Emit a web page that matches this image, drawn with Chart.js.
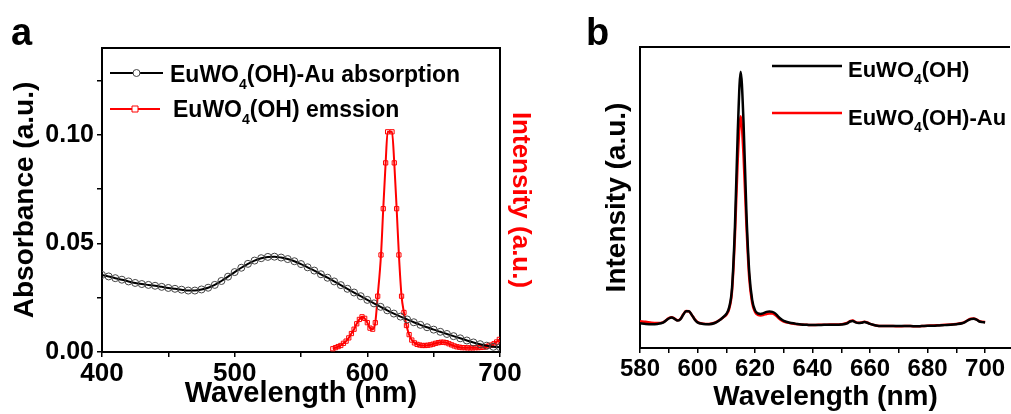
<!DOCTYPE html>
<html>
<head>
<meta charset="utf-8">
<script src="https://cdn.jsdelivr.net/npm/chart.js@4.4.0/dist/chart.umd.min.js"></script>
<style>
  html, body { margin: 0; padding: 0; background: #fff; overflow: hidden; }
  #wrap { position: relative; width: 1011px; height: 414px; }
  canvas { position: absolute; top: 0; }
  #chart-a { left: 0; }
  #chart-b { left: 560px; }
</style>
</head>
<body>
<div id="wrap">
  <canvas id="chart-a" width="550" height="414"></canvas>
  <canvas id="chart-b" width="451" height="414"></canvas>
</div>
<script>
// panel a: absorption of EuWO4(OH)-Au (every 5 nm)
const absWavelength = [400,405,410,415,420,425,430,435,440,445,450,455,460,465,470,475,480,485,490,495,
  500,505,510,515,520,525,530,535,540,545,550,555,560,565,570,575,580,585,590,595,
  600,605,610,615,620,625,630,635,640,645,650,655,660,665,670,675,680,685,690,695,700];
const absValues = [0.0355,0.0348,0.0340,0.0333,0.0325,0.0318,0.0313,0.0309,0.0305,0.0300,0.0295,0.0291,0.0287,0.0283,0.0283,0.0288,0.0296,0.0309,0.0327,0.0347,
  0.0368,0.0388,0.0406,0.0421,0.0432,0.0438,0.0439,0.0435,0.0428,0.0418,0.0405,0.0390,0.0375,0.0358,0.0342,0.0325,0.0308,0.0291,0.0274,0.0257,
  0.0240,0.0224,0.0208,0.0192,0.0177,0.0163,0.0150,0.0137,0.0125,0.0114,0.0103,0.0093,0.0083,0.0073,0.0063,0.0053,0.0044,0.0036,0.0029,0.0024,0.0022];

// panel a: emission of EuWO4(OH)
const emWavelength = [574,576,578,580,582,584,586,588,590,592,594,596,598,600,602,604,606,
  607.8,610.3,612.0,613.8,615.3,618.6,620.3,622.1,623.8,625.8,627.6,629.5,
  631.5,633.5,635.5,637.5,639.5,641.5,643.5,645.5,647.5,649.5,651.5,653.5,655.5,657.5,659.5,661.5,663.5,665.5,667.5,
  669.5,671.5,673.5,675.5,677.5,679.5,681.5,683.5,685.5,687.5,689.5,691.5,693.5,695.5,697.5,699.5];
const emValues = [0.0015,0.0020,0.0025,0.0030,0.0040,0.0050,0.0065,0.0085,0.0105,0.0130,0.0150,0.0162,0.0155,0.0135,0.0110,0.0105,0.0135,
  0.0257,0.0447,0.0660,0.0871,0.1014,0.1014,0.0871,0.0660,0.0447,0.0257,0.0182,0.0122,
  0.0080,0.0055,0.0042,0.0035,0.0032,0.0030,0.0030,0.0031,0.0033,0.0036,0.0040,0.0043,0.0045,0.0045,0.0043,0.0038,0.0033,0.0028,0.0024,
  0.0022,0.0020,0.0020,0.0019,0.0019,0.0019,0.0020,0.0020,0.0021,0.0022,0.0024,0.0028,0.0032,0.0038,0.0046,0.0058];

// panel b: emission spectra
const pl_wavelength = [580,582,584,586,588,590,591,592,593,594,595,596,597,598,599,600,602,604,606,608,
  609,610,611,612,613,614,615,616,617,618,619,620,621,622,623,624,625,626,627,628,
  629,630,632,634,636,638,640,642,644,646,648,650,652,653,654,655,656,657,658,659,
  660,662,664,666,668,670,672,674,676,678,680,682,684,686,688,690,692,693,694,695,
  696,697,698,699,700];
const plPure = [8.2,8.0,7.9,8.0,8.4,9.8,10.1,9.7,9.1,9.5,11.0,12.2,12.2,11.0,9.5,8.5,8.0,7.9,8.3,9.5,
  10.3,11.3,13.5,20,40,72,91.8,75,45,25,16,12.5,11.5,11.3,11.6,12.0,12.1,12.0,11.5,10.5,
  9.6,9.0,8.4,8.1,7.8,7.7,7.6,7.6,7.7,7.7,7.7,7.8,8.2,8.8,9.0,8.5,8.3,8.4,8.6,8.4,
  8.0,7.5,7.3,7.3,7.3,7.3,7.3,7.3,7.2,7.3,7.4,7.4,7.5,7.6,7.7,7.9,8.2,8.6,9.2,9.6,
  9.7,9.4,8.8,8.6,8.5];
const plAu = [8.9,8.7,8.4,8.3,8.5,9.9,10.2,9.8,9.2,9.6,11.1,12.3,12.2,11.0,9.6,8.6,8.1,8.0,8.4,9.5,
  10.2,11.0,13.0,19,37,63,77,64,41,23,15,12,11.0,10.8,11.0,11.3,11.5,11.5,11.0,10.1,
  9.3,8.8,8.3,8.0,7.8,7.7,7.6,7.7,7.7,7.8,7.8,7.9,8.3,8.9,9.1,8.6,8.4,8.5,8.7,8.5,
  8.0,7.5,7.3,7.3,7.3,7.2,7.3,7.3,7.2,7.3,7.4,7.5,7.6,7.7,7.8,8.0,8.3,8.7,9.3,9.7,
  9.8,9.5,8.9,8.7,8.6];

const xLabelsA = [400, 500, 600, 700];
const yLabelsA = [0, 0.05, 0.10];
const xLabelsB = [580, 600, 620, 640, 660, 680, 700];

const toPoints = (xs, ys) => xs.map((x, i) => ({ x, y: ys[i] }));
const FONT = "'Liberation Sans', Arial, sans-serif";

// top frame line + panel letter
const framePlugin = {
  id: "frame",
  afterDraw(chart, args, opts) {
    const { ctx, chartArea } = chart;
    ctx.save();
    ctx.strokeStyle = "#000";
    ctx.lineWidth = 2;
    ctx.beginPath();
    ctx.moveTo(chartArea.left - 1, chartArea.top);
    ctx.lineTo(opts.topEnd ?? chartArea.right, chartArea.top);
    ctx.stroke();
    ctx.fillStyle = "#000";
    ctx.font = `bold 38px ${FONT}`;
    ctx.textBaseline = "alphabetic";
    ctx.fillText(opts.letter, opts.letterX, 45);
    ctx.restore();
  },
};

// legend with subscripts, e.g. "EuWO_4(OH)"
function drawRichText(ctx, text, x, y, size) {
  const parts = text.split(/_(\d)/);
  parts.forEach((part, i) => {
    if (i % 2 === 1) {
      ctx.font = `bold ${Math.round(size * 0.62)}px ${FONT}`;
      ctx.fillText(part, x, y + size * 0.3);
    } else {
      ctx.font = `bold ${size}px ${FONT}`;
      ctx.fillText(part, x, y);
    }
    x += ctx.measureText(part).width;
  });
}

const legendPlugin = {
  id: "richLegend",
  afterDraw(chart, args, opts) {
    const { ctx } = chart;
    ctx.save();
    opts.items.forEach((item, i) => {
      const ds = chart.data.datasets[i];
      ctx.strokeStyle = ds.borderColor;
      ctx.lineWidth = ds.borderWidth;
      ctx.beginPath();
      ctx.moveTo(item.x0, item.y);
      ctx.lineTo(item.x1, item.y);
      ctx.stroke();
      if (ds.pointRadius > 0) {
        const mx = (item.x0 + item.x1) / 2;
        const r = ds.pointRadius;
        ctx.lineWidth = 1;
        ctx.strokeStyle = ds.pointBorderColor;
        ctx.fillStyle = "#fff";
        ctx.beginPath();
        if (ds.pointStyle === "rect") ctx.rect(mx - r, item.y - r, 2 * r, 2 * r);
        else ctx.arc(mx, item.y, r, 0, Math.PI * 2);
        ctx.fill();
        ctx.stroke();
      }
      ctx.fillStyle = "#000";
      ctx.textBaseline = "alphabetic";
      drawRichText(ctx, ds.label, item.tx, item.ty, opts.size);
    });
    ctx.restore();
  },
};

const axisLine = { display: true, color: "#000", width: 2 };
const tickGrid = { display: true, drawOnChartArea: false, drawTicks: true, tickLength: 5, color: "#000", lineWidth: 1.5 };

new Chart(document.getElementById("chart-a"), {
  type: "line",
  data: {
    datasets: [
      {
        label: "EuWO_4(OH)-Au absorption",
        data: toPoints(absWavelength, absValues),
        yAxisID: "y",
        borderColor: "#000",
        borderWidth: 2,
        pointStyle: "circle",
        pointRadius: 3.5,
        pointBorderWidth: 1,
        pointBorderColor: "#444",
        pointBackgroundColor: "rgba(255,255,255,0)",
        cubicInterpolationMode: "monotone",
      },
      {
        label: "EuWO_4(OH) emssion",
        data: toPoints(emWavelength, emValues),
        yAxisID: "y2",
        borderColor: "#ff0000",
        borderWidth: 2,
        pointStyle: "rect",
        pointRadius: 3,
        pointBorderWidth: 1,
        pointBorderColor: "#ff0000",
        pointBackgroundColor: "rgba(255,255,255,0)",
        cubicInterpolationMode: "monotone",
      },
    ],
  },
  options: {
    responsive: false,
    animation: false,
    layout: { padding: { top: 48, left: 0, right: 0, bottom: 0 } },
    plugins: {
      legend: { display: false },
      tooltip: { enabled: false },
      frame: { letter: "a", letterX: 11 },
      richLegend: {
        size: 23,
        items: [
          { x0: 110, x1: 163, y: 73, tx: 170, ty: 82 },
          { x0: 110, x1: 160, y: 109, tx: 173, ty: 117 },
        ],
      },
    },
    scales: {
      x: {
        type: "linear",
        min: 400,
        max: 700,
        afterFit: (s) => { s.height = 62; },
        grid: tickGrid,
        border: axisLine,
        ticks: {
          stepSize: 50,
          padding: 1,
          color: "#000",
          font: { family: FONT, size: 26, weight: "bold" },
          maxRotation: 0,
          callback: (v) => (xLabelsA.includes(v) ? String(v) : ""),
        },
        title: {
          display: true,
          text: "Wavelength (nm)",
          color: "#000",
          font: { family: FONT, size: 29, weight: "bold" },
          padding: { top: 0, bottom: 3 },
        },
      },
      y: {
        type: "linear",
        position: "left",
        min: 0,
        max: 0.14,
        afterFit: (s) => { s.width = 102; },
        grid: tickGrid,
        border: axisLine,
        ticks: {
          stepSize: 0.025,
          includeBounds: false,
          padding: 3,
          color: "#000",
          font: { family: FONT, size: 25, weight: "bold" },
          callback: (v) => {
            const hit = yLabelsA.find((t) => Math.abs(t - v) < 1e-6);
            return hit === undefined ? "" : hit.toFixed(2);
          },
        },
        title: {
          display: true,
          text: "Absorbance (a.u.)",
          color: "#000",
          font: { family: FONT, size: 28, weight: "bold" },
          padding: { top: 8, bottom: 0 },
        },
      },
      y2: {
        type: "linear",
        position: "right",
        min: 0,
        max: 0.14,
        afterFit: (s) => { s.width = 50; },
        grid: { display: false, drawTicks: false },
        border: axisLine,
        ticks: { display: false },
        title: {
          display: true,
          text: "Intensity (a.u.)",
          color: "#ff0000",
          font: { family: FONT, size: 26, weight: "bold" },
          padding: { top: 14, bottom: 0 },
        },
      },
    },
  },
  plugins: [framePlugin, legendPlugin],
});

new Chart(document.getElementById("chart-b"), {
  type: "line",
  data: {
    datasets: [
      {
        label: "EuWO_4(OH)",
        data: toPoints(pl_wavelength, plPure),
        borderColor: "#000",
        borderWidth: 2.5,
        pointRadius: 0,
        cubicInterpolationMode: "monotone",
      },
      {
        label: "EuWO_4(OH)-Au",
        data: toPoints(pl_wavelength, plAu),
        borderColor: "#ff0000",
        borderWidth: 2.5,
        pointRadius: 0,
        cubicInterpolationMode: "monotone",
      },
    ],
  },
  options: {
    responsive: false,
    animation: false,
    layout: { padding: { top: 47, left: 0, right: 0, bottom: 0 } },
    plugins: {
      legend: { display: false },
      tooltip: { enabled: false },
      frame: { letter: "b", letterX: 26, topEnd: 450 },
      richLegend: {
        size: 22,
        items: [
          { x0: 212, x1: 282, y: 66, tx: 288, ty: 77 },
          { x0: 212, x1: 282, y: 113, tx: 288, ty: 125 },
        ],
      },
    },
    scales: {
      x: {
        type: "linear",
        min: 580,
        max: 709,
        afterFit: (s) => { s.height = 66; },
        grid: tickGrid,
        border: axisLine,
        ticks: {
          stepSize: 10,
          includeBounds: false,
          padding: 2,
          color: "#000",
          font: { family: FONT, size: 24, weight: "bold" },
          maxRotation: 0,
          autoSkip: false,
          callback: (v) => (xLabelsB.includes(v) ? String(v) : ""),
        },
        title: {
          display: true,
          text: "Wavelength (nm)",
          color: "#000",
          font: { family: FONT, size: 28, weight: "bold" },
          padding: { top: 0, bottom: 0 },
        },
      },
      y: {
        type: "linear",
        min: 0,
        max: 100,
        afterFit: (s) => { s.width = 80; },
        grid: { display: false, drawTicks: false },
        border: axisLine,
        ticks: { display: false },
        title: {
          display: true,
          text: "Intensity (a.u.)",
          color: "#000",
          font: { family: FONT, size: 28, weight: "bold" },
          padding: { top: 40, bottom: 0 },
        },
      },
    },
  },
  plugins: [framePlugin, legendPlugin],
});
</script>
</body>
</html>
